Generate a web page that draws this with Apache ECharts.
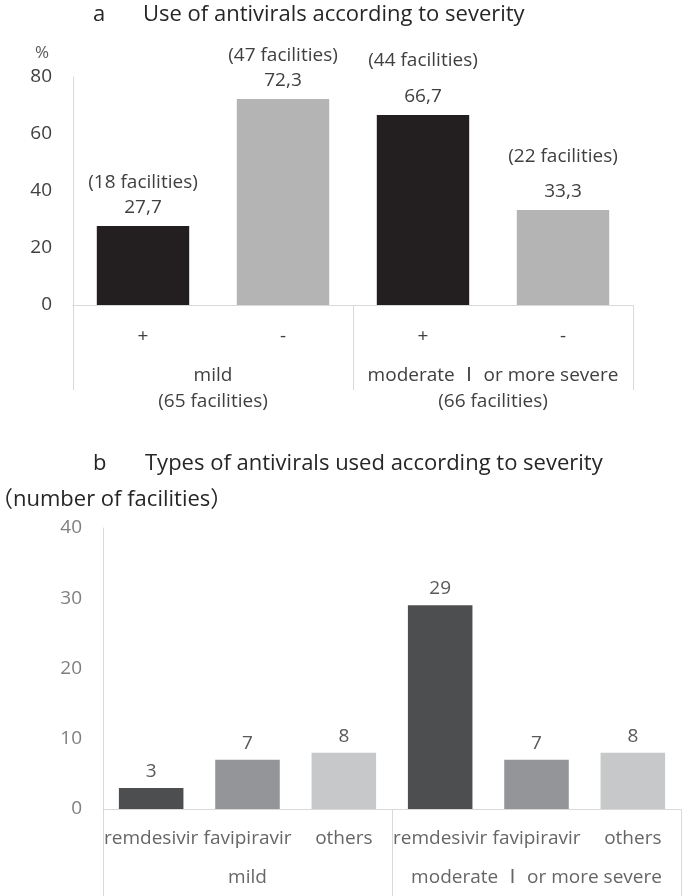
<!DOCTYPE html>
<html>
<head>
<meta charset="utf-8">
<script src="https://cdn.jsdelivr.net/npm/echarts@6/dist/echarts.min.js"></script>
<style>
  html, body { margin: 0; padding: 0; background: #fff; }
  #chart { width: 685px; height: 896px; }
</style>
</head>
<body>
<div id="chart"></div>
<script>
// panel a: use of antivirals
const useSubCats = ['+', '-', '+', '-']
const useGroups = ['mild\n(65 facilities)', 'moderate Ⅰ or more severe\n(66 facilities)']
const usePercent = [27.7, 72.3, 66.7, 33.3]
const useFacilities = [18, 47, 44, 22]

// panel b: types of antivirals
const drugCats = ['remdesivir', 'favipiravir', 'others', 'remdesivir', 'favipiravir', 'others']
const drugGroups = ['mild', 'moderate Ⅰ or more severe']
const drugCounts = [3, 7, 8, 29, 7, 8]

const FONT = '"Open Sans", "Noto Sans CJK JP", sans-serif'
const useColors = ['#231f20', '#b4b4b4']
const drugColors = ['#4d4e50', '#939598', '#c7c8ca']
const lineColor = '#d9d9d9'

const chart = echarts.init(document.getElementById('chart'), null, { renderer: 'canvas' })

const titleStyle = { fontSize: 22, fontWeight: 'normal', color: '#262626', fontFamily: FONT }

const option = {
  animation: false,
  textStyle: { fontFamily: FONT },
  title: [
    { text: 'a', left: 93, top: 4, padding: 0, textStyle: titleStyle },
    { text: 'Use of antivirals according to severity', left: 143, top: 4, padding: 0, textStyle: titleStyle },
    { text: '%', left: 35, top: 45, padding: 0, textStyle: { fontSize: 17, fontWeight: 'normal', color: '#595959', fontFamily: FONT } },
    { text: 'b', left: 93, top: 453, padding: 0, textStyle: titleStyle },
    { text: 'Types of antivirals used according to severity', left: 145, top: 453, padding: 0, textStyle: titleStyle },
    { text: '（number of facilities）', left: -9, top: 489, padding: 0, textStyle: titleStyle }
  ],
  grid: [
    { left: 73, right: 52, top: 77, height: 228 },
    { left: 103, right: 4, top: 528, height: 281 }
  ],
  xAxis: [
    {
      gridIndex: 0, type: 'category', data: useSubCats, position: 'bottom',
      axisLine: { show: false }, axisTick: { show: false },
      axisLabel: { margin: 22, fontSize: 19, color: '#404040' }
    },
    {
      gridIndex: 0, type: 'category', data: useGroups, position: 'bottom',
      axisLine: { show: true, lineStyle: { color: lineColor } },
      axisTick: { show: true, interval: 0, length: 85, lineStyle: { color: lineColor } },
      axisLabel: { margin: 58, fontSize: 19, lineHeight: 26, color: '#404040', interval: 0 }
    },
    {
      gridIndex: 1, type: 'category', data: drugCats, position: 'bottom',
      axisLine: { show: false }, axisTick: { show: false },
      axisLabel: { margin: 20, fontSize: 19, color: '#666666', interval: 0 }
    },
    {
      gridIndex: 1, type: 'category', data: drugGroups, position: 'bottom',
      axisLine: { show: true, lineStyle: { color: lineColor } },
      axisTick: { show: true, interval: 0, length: 100, lineStyle: { color: lineColor } },
      axisLabel: { margin: 59, fontSize: 19, color: '#666666', interval: 0 }
    }
  ],
  yAxis: [
    {
      gridIndex: 0, type: 'value', min: 0, max: 80, interval: 20,
      axisLine: { show: true, lineStyle: { color: lineColor } },
      axisTick: { show: false }, splitLine: { show: false },
      axisLabel: { margin: 21, fontSize: 19, color: '#404040' }
    },
    {
      gridIndex: 1, type: 'value', min: 0, max: 40, interval: 10,
      axisLine: { show: true, lineStyle: { color: lineColor } },
      axisTick: { show: false }, splitLine: { show: false },
      axisLabel: { margin: 21, fontSize: 19, color: '#808080' }
    }
  ],
  series: [
    {
      type: 'bar',
      xAxisIndex: 0, yAxisIndex: 0,
      barWidth: '66%',
      data: usePercent,
      itemStyle: { color: p => useColors[p.dataIndex % 2] },
      label: {
        show: true,
        position: 'top',
        distance: 7,
        align: 'center',
        formatter: p => {
          const s = p.dataIndex < 2 ? 'f' : 'g'
          return '{' + s + '|(' + useFacilities[p.dataIndex] + ' facilities)}\n{v|' +
            p.value.toFixed(1).replace('.', ',') + '}'
        },
        rich: {
          f: { fontSize: 19, lineHeight: 27, color: '#404040' },
          g: { fontSize: 19, lineHeight: 48, color: '#404040' },
          v: { fontSize: 19, lineHeight: 23, color: '#404040' }
        }
      }
    },
    {
      type: 'bar',
      xAxisIndex: 2, yAxisIndex: 1,
      barWidth: '67%',
      data: drugCounts,
      itemStyle: { color: p => drugColors[p.dataIndex % 3] },
      label: { show: true, position: 'top', distance: 7, fontSize: 19, color: '#595959' }
    }
  ]
}

chart.setOption(option)
</script>
</body>
</html>
